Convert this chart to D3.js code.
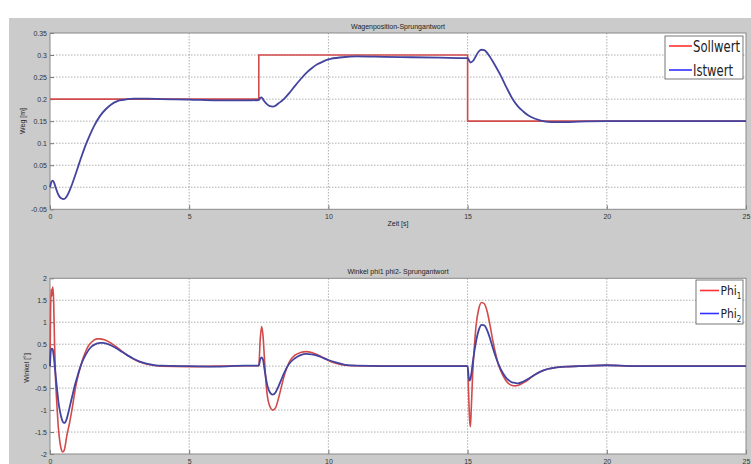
<!DOCTYPE html>
<html><head><meta charset="utf-8">
<script src="https://cdn.jsdelivr.net/npm/d3@7"></script>
<style>
body{margin:0;background:#fff;}
svg{display:block;font-family:"Liberation Sans",Arial,sans-serif;}
</style></head>
<body><svg id="c" width="751" height="464"></svg>
<script>
// ---------- DATA ----------
const topTitle = "Wagenposition-Sprungantwort";
const botTitle = "Winkel phi1 phi2- Sprungantwort";
const xTicks = [0, 5, 10, 15, 20, 25];
const topYTicks = [-0.05, 0, 0.05, 0.1, 0.15, 0.2, 0.25, 0.3, 0.35];
const topYLabels = ["-0.05", "0", "0.05", "0.1", "0.15", "0.2", "0.25", "0.3", "0.35"];
const botYTicks = [-2, -1.5, -1, -0.5, 0, 0.5, 1, 1.5, 2];
const botYLabels = ["-2", "-1.5", "-1", "-0.5", "0", "0.5", "1", "1.5", "2"];

// Sollwert (step reference)
const sollT = [0, 7.5, 7.5, 15, 15, 25];
const sollV = [0.2, 0.2, 0.3, 0.3, 0.15, 0.15];

// Istwert
const istT = [0,0.05,0.1,0.15,0.2,0.3,0.4,0.5,0.6,0.7,0.8,0.9,1.0,1.1,1.2,1.3,1.4,1.5,1.6,1.8,2.0,2.2,2.4,2.6,2.8,3.0,3.5,4,5,6,7,7.5,7.55,7.6,7.65,7.7,7.8,7.9,8.0,8.1,8.2,8.4,8.6,8.8,9.0,9.2,9.4,9.6,9.8,10,10.5,11,12,13,14,15,15.05,15.1,15.2,15.3,15.4,15.5,15.6,15.7,15.8,16.0,16.2,16.4,16.6,16.8,17.0,17.2,17.4,17.6,17.8,18,18.5,19,20,21,22,23,24,25];
const istV = [0,0.012,0.015,0.01,0.0,-0.017,-0.025,-0.027,-0.021,-0.008,0.008,0.026,0.045,0.064,0.082,0.099,0.114,0.128,0.141,0.162,0.177,0.188,0.195,0.198,0.2,0.201,0.201,0.2,0.199,0.197,0.197,0.198,0.203,0.204,0.2,0.195,0.188,0.184,0.183,0.185,0.19,0.2,0.214,0.23,0.245,0.259,0.27,0.279,0.285,0.29,0.295,0.297,0.296,0.295,0.294,0.293,0.288,0.283,0.287,0.298,0.308,0.312,0.311,0.305,0.296,0.275,0.252,0.226,0.202,0.184,0.172,0.162,0.156,0.152,0.149,0.148,0.148,0.149,0.15,0.15,0.15,0.15,0.15,0.15];

// Phi1
const phi1T = [0,0.02,0.04,0.07,0.1,0.13,0.16,0.2,0.25,0.3,0.35,0.4,0.45,0.5,0.55,0.6,0.7,0.8,0.9,1.0,1.1,1.2,1.3,1.4,1.5,1.6,1.7,1.8,1.9,2.0,2.2,2.4,2.6,2.8,3.0,3.2,3.4,3.6,3.8,4.0,5,6,7,7.5,7.55,7.6,7.65,7.7,7.75,7.8,7.9,8.0,8.1,8.2,8.3,8.4,8.5,8.6,8.8,9.0,9.2,9.4,9.6,9.8,10.0,10.3,10.6,11,12,13,14,15,15.03,15.07,15.1,15.13,15.18,15.25,15.3,15.4,15.5,15.6,15.7,15.8,15.9,16.0,16.1,16.2,16.3,16.4,16.5,16.6,16.7,16.8,17.0,17.2,17.4,17.6,17.8,18.0,18.3,18.6,19,20,21,22,23,24,25];
const phi1V = [0,1.2,1.75,1.6,1.8,1.5,0.6,-0.3,-0.9,-1.4,-1.7,-1.88,-1.95,-1.93,-1.8,-1.6,-1.3,-0.95,-0.55,-0.24,0.0,0.2,0.36,0.48,0.55,0.6,0.62,0.62,0.61,0.59,0.52,0.43,0.33,0.24,0.16,0.1,0.06,0.03,0.01,0.0,-0.01,0.0,0.01,0.01,0.6,0.9,0.7,0.2,-0.3,-0.65,-0.92,-1.0,-0.95,-0.75,-0.5,-0.25,-0.05,0.1,0.25,0.31,0.33,0.31,0.26,0.2,0.13,0.06,0.02,0.01,0.0,0.0,0.0,0.0,-0.5,-1.2,-1.38,-1.0,-0.2,0.5,0.9,1.3,1.45,1.42,1.25,0.95,0.6,0.3,0.05,-0.12,-0.25,-0.35,-0.41,-0.44,-0.45,-0.44,-0.38,-0.3,-0.2,-0.13,-0.08,-0.05,-0.02,-0.01,0.0,0.02,0.0,0.0,0.0,0.0,0.0];

// Phi2
const phi2T = [0,0.03,0.06,0.1,0.13,0.17,0.2,0.25,0.3,0.35,0.4,0.45,0.5,0.55,0.6,0.7,0.8,0.9,1.0,1.1,1.2,1.3,1.4,1.5,1.6,1.7,1.8,1.9,2.0,2.2,2.4,2.6,2.8,3.0,3.2,3.4,3.6,3.8,4.0,5,6,7,7.5,7.55,7.6,7.65,7.7,7.75,7.8,7.9,8.0,8.1,8.2,8.3,8.4,8.5,8.6,8.8,9.0,9.2,9.4,9.6,9.8,10.0,10.3,10.6,11,12,13,14,15,15.03,15.07,15.1,15.15,15.2,15.3,15.4,15.5,15.6,15.7,15.8,15.9,16.0,16.1,16.2,16.3,16.4,16.5,16.6,16.7,16.8,17.0,17.2,17.4,17.6,17.8,18.0,18.3,18.6,19,20,21,22,23,24,25];
const phi2V = [0,0.35,0.4,0.38,0.25,0.0,-0.2,-0.5,-0.8,-1.0,-1.15,-1.25,-1.29,-1.28,-1.2,-0.95,-0.68,-0.42,-0.2,0.0,0.16,0.28,0.38,0.45,0.49,0.52,0.53,0.53,0.52,0.47,0.4,0.32,0.24,0.17,0.11,0.07,0.04,0.02,0.01,0.0,-0.01,0.01,0.01,0.15,0.2,0.15,-0.05,-0.25,-0.42,-0.6,-0.65,-0.6,-0.47,-0.32,-0.17,-0.04,0.06,0.18,0.25,0.28,0.27,0.24,0.19,0.14,0.08,0.03,0.01,0.0,0.0,0.0,0.0,-0.2,-0.33,-0.3,-0.1,0.15,0.55,0.82,0.94,0.93,0.82,0.64,0.43,0.23,0.06,-0.08,-0.19,-0.28,-0.33,-0.37,-0.38,-0.39,-0.35,-0.28,-0.2,-0.13,-0.08,-0.05,-0.02,-0.01,0.0,0.02,0.0,0.0,0.0,0.0,0.0];

const legendTop = ["Sollwert", "Istwert"];
const legendBot = ["Phi", "Phi"];
const legendBotSub = ["1", "2"];

// ---------- DRAW ----------
const svg = d3.select("#c");
const RED = "#d24a4a", BLUE = "#4343a0";
svg.append("rect").attr("x", 9).attr("y", 18).attr("width", 742).attr("height", 446).attr("fill", "#cbcbcb");

const x = d3.scaleLinear().domain([0, 25]).range([50, 746]);

function panel(y, yTicks, yLabels, title, titleY) {
  const [y0, y1] = y.range();
  const g = svg.append("g");
  g.append("rect").attr("x", 50).attr("y", y1).attr("width", 696).attr("height", y0 - y1).attr("fill", "#fff");
  g.selectAll(".gx").data(xTicks.slice(1, -1)).join("line")
    .attr("x1", d => x(d)).attr("x2", d => x(d)).attr("y1", y1).attr("y2", y0)
    .attr("stroke", "#9a9a9a").attr("stroke-width", 0.8).attr("stroke-dasharray", "1.5,1.5");
  g.selectAll(".gy").data(yTicks.slice(1, -1)).join("line")
    .attr("y1", d => y(d)).attr("y2", d => y(d)).attr("x1", 50).attr("x2", 746)
    .attr("stroke", "#9a9a9a").attr("stroke-width", 0.8).attr("stroke-dasharray", "1.5,1.5");
  const ax = g.append("g").attr("transform", `translate(0,${y0})`)
    .call(d3.axisBottom(x).tickValues(xTicks).tickFormat(d3.format("d")).tickSize(-4).tickPadding(5));
  const ay = g.append("g").attr("transform", `translate(50,0)`)
    .call(d3.axisLeft(y).tickValues(yTicks).tickFormat((d, i) => yLabels[i]).tickSize(-4).tickPadding(3));
  [ax, ay].forEach(a => {
    a.select(".domain").remove();
    a.selectAll("line").attr("stroke", "#777");
    a.selectAll("text").attr("font-size", 7).attr("fill", "#333").attr("font-family", "Liberation Sans, Arial, sans-serif");
  });
  g.append("rect").attr("x", 50).attr("y", y1).attr("width", 696).attr("height", y0 - y1)
    .attr("fill", "none").attr("stroke", "#8a8a8a").attr("stroke-width", 1);
  g.append("text").attr("x", 398).attr("y", titleY).attr("text-anchor", "middle")
    .attr("font-size", 7).attr("fill", "#222").text(title);
  return g;
}

// top panel
const yT = d3.scaleLinear().domain([-0.05, 0.35]).range([209.3, 33]);
const gT = panel(yT, topYTicks, topYLabels, topTitle, 29);
svg.append("text").attr("x", 398).attr("y", 226).attr("text-anchor", "middle").attr("font-size", 7).attr("fill", "#222").text("Zeit [s]");
svg.append("text").attr("transform", "translate(25,121) rotate(-90)").attr("text-anchor", "middle").attr("font-size", 7).attr("fill", "#222").text("Weg [m]");

const lineT = d3.line().x(d => x(d[0])).y(d => yT(d[1]));
const lineTs = d3.line().x(d => x(d[0])).y(d => yT(d[1])).curve(d3.curveMonotoneX);
gT.append("path").attr("d", lineT(d3.zip(sollT, sollV))).attr("fill", "none").attr("stroke", RED).attr("stroke-width", 1.6);
gT.append("path").attr("d", lineTs(d3.zip(istT, istV))).attr("fill", "none").attr("stroke", BLUE).attr("stroke-width", 1.8);

// top legend
const lg = svg.append("g");
lg.append("rect").attr("x", 665).attr("y", 36).attr("width", 78).attr("height", 43).attr("fill", "#fff").attr("stroke", "#555").attr("stroke-width", 0.8);
[[46, 0], [70, 1]].forEach(([yy, i]) => {
  lg.append("line").attr("x1", 669).attr("x2", 692).attr("y1", yy).attr("y2", yy).attr("stroke", i ? "#3030ff" : "#ff3030").attr("stroke-width", 1.6);
  lg.append("text").attr("x", 693).attr("y", yy + 6).attr("font-size", 16).attr("fill", "#222")
    .attr("font-family", "Liberation Sans Narrow, DejaVu Sans Condensed, sans-serif")
    .attr("textLength", i ? 40 : 47).attr("lengthAdjust", "spacingAndGlyphs").text(legendTop[i]);
});

// bottom panel
const yB = d3.scaleLinear().domain([-2, 2]).range([454, 278.3]);
const gB = panel(yB, botYTicks, botYLabels, botTitle, 274);
svg.append("text").attr("transform", "translate(29,368) rotate(-90)").attr("text-anchor", "middle").attr("font-size", 7).attr("fill", "#222").text("Winkel [°]");
const lineB = d3.line().x(d => x(d[0])).y(d => yB(d[1])).curve(d3.curveMonotoneX);
gB.append("path").attr("d", lineB(d3.zip(phi1T, phi1V))).attr("fill", "none").attr("stroke", RED).attr("stroke-width", 1.6);
gB.append("path").attr("d", lineB(d3.zip(phi2T, phi2V))).attr("fill", "none").attr("stroke", BLUE).attr("stroke-width", 1.8);

// bottom legend
const lb = svg.append("g");
lb.append("rect").attr("x", 696).attr("y", 280).attr("width", 47).attr("height", 44).attr("fill", "#fff").attr("stroke", "#555").attr("stroke-width", 0.8);
[[290.5, 0], [313.5, 1]].forEach(([yy, i]) => {
  lb.append("line").attr("x1", 700).attr("x2", 719).attr("y1", yy).attr("y2", yy).attr("stroke", i ? "#3030ff" : "#ff3030").attr("stroke-width", 1.6);
  const t = lb.append("text").attr("x", 720.5).attr("y", yy + 4).attr("font-size", 12).attr("fill", "#222")
    .attr("font-family", "Liberation Sans Narrow, DejaVu Sans Condensed, sans-serif");
  t.append("tspan").text(legendBot[i]);
  t.append("tspan").attr("dy", 4.5).attr("font-size", 8).text(legendBotSub[i]);
});
</script></body></html>
